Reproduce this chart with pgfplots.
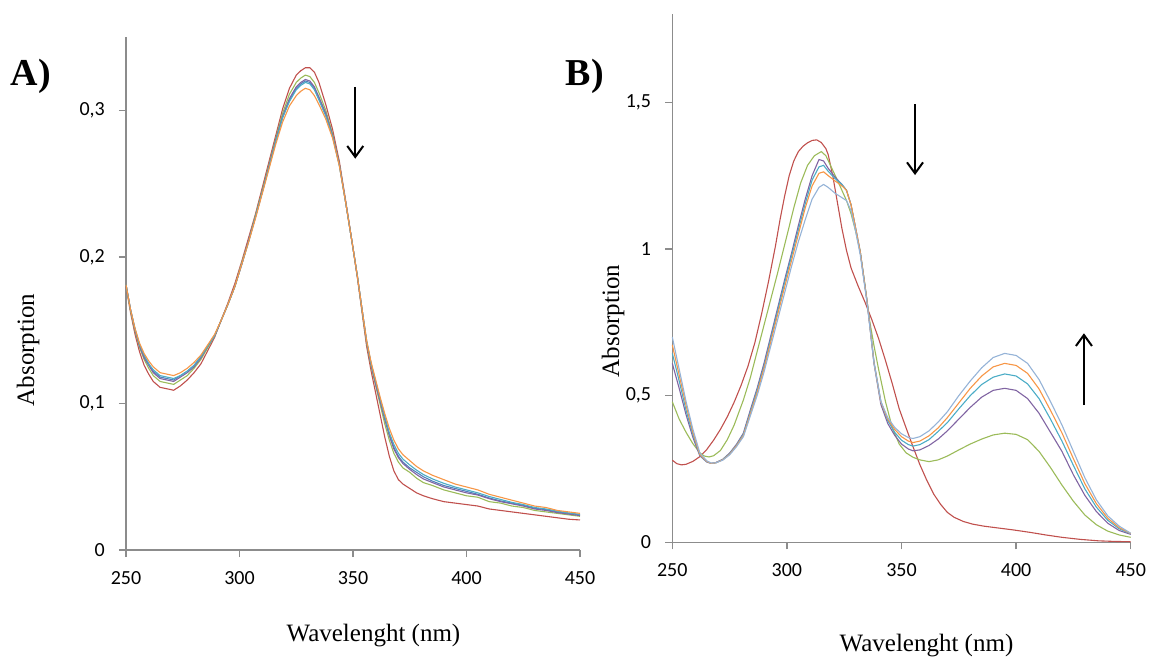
\documentclass[border=0pt]{standalone}
\usepackage{pgfplots}
\pgfplotsset{compat=1.18}
\usetikzlibrary{arrows.meta}
\usepackage{fontspec}
\setmainfont{Liberation Serif}
\newfontfamily\carlito{Carlito}
\definecolor{axisgray}{HTML}{8C8C8C}
\definecolor{xblue}{HTML}{4F81BD}
\definecolor{xred}{HTML}{C0504D}
\definecolor{xgreen}{HTML}{9BBB59}
\definecolor{xpurple}{HTML}{8064A2}
\definecolor{xaqua}{HTML}{4BACC6}
\definecolor{xorange}{HTML}{F79646}
\definecolor{xlblue}{HTML}{95B3D7}
\pgfplotsset{
  specstyle/.style={
    scale only axis,
    axis lines*=left,
    axis line style={draw=axisgray, line width=1.3pt},
    tick style={draw=axisgray, line width=1.3pt},
    tick align=outside,
    major tick length=7pt,
    xmin=250, xmax=450, ymin=0,
    xtick={250,300,350,400,450},
    tick label style={font=\carlito\fontsize{20}{24}\selectfont, text=black, inner sep=0pt},
    xticklabel style={yshift=-14pt},
    yticklabel style={xshift=-14pt},
    /pgf/number format/assume math mode=true,
    yticklabel style={/pgf/number format/.cd, use comma, fixed},
    clip=false,
    every axis plot/.append style={line width=1.1pt, mark=none},
  }
}
\begin{document}
\begin{tikzpicture}
\useasboundingbox (0,0) rectangle (1151pt,-659pt);
% ---------------- Panel A ----------------
\begin{axis}[specstyle, at={(126pt,-550pt)}, anchor=south west,
  width=454pt, height=513pt, ymax=0.35, ytick={0,0.1,0.2,0.3}]
\addplot[xblue] coordinates {(250,0.181)(252,0.164)(254,0.150)(256,0.140)(258,0.132)(260,0.127)(262,0.122)(265,0.118)(268,0.117)(271,0.116)(274,0.119)(277,0.122)(280,0.126)(283,0.132)(286,0.139)(289,0.146)(292,0.157)(295,0.168)(298,0.180)(301,0.195)(304,0.211)(307,0.227)(310,0.244)(313,0.262)(316,0.279)(319,0.295)(322,0.307)(325,0.315)(327,0.318)(329,0.320)(331,0.319)(333,0.315)(335,0.308)(338,0.297)(341,0.283)(344,0.263)(347,0.235)(350,0.206)(352,0.186)(354,0.164)(356,0.142)(358,0.127)(360,0.114)(362,0.102)(364,0.090)(366,0.079)(368,0.070)(370,0.064)(372,0.060)(375,0.056)(378,0.053)(381,0.050)(385,0.047)(390,0.044)(395,0.042)(400,0.040)(405,0.038)(410,0.0355)(415,0.0335)(420,0.032)(425,0.0305)(430,0.0285)(435,0.0275)(440,0.026)(445,0.025)(450,0.024)};
\addplot[xred] coordinates {(250,0.180)(252,0.162)(254,0.147)(256,0.135)(258,0.126)(260,0.120)(262,0.115)(265,0.111)(268,0.110)(271,0.109)(274,0.112)(277,0.116)(280,0.121)(283,0.127)(286,0.136)(289,0.145)(292,0.157)(295,0.169)(298,0.182)(301,0.197)(304,0.213)(307,0.229)(310,0.247)(313,0.265)(316,0.283)(319,0.301)(322,0.315)(325,0.324)(327,0.327)(329,0.329)(331,0.329)(333,0.326)(335,0.319)(338,0.304)(341,0.287)(344,0.265)(347,0.236)(350,0.206)(352,0.185)(354,0.162)(356,0.139)(358,0.122)(360,0.107)(362,0.092)(364,0.077)(366,0.064)(368,0.054)(370,0.048)(372,0.045)(375,0.042)(378,0.039)(381,0.037)(385,0.035)(390,0.033)(395,0.032)(400,0.031)(405,0.030)(410,0.028)(415,0.027)(420,0.026)(425,0.025)(430,0.024)(435,0.023)(440,0.022)(445,0.021)(450,0.0205)};
\addplot[xgreen] coordinates {(250,0.181)(252,0.163)(254,0.149)(256,0.138)(258,0.130)(260,0.124)(262,0.119)(265,0.115)(268,0.114)(271,0.113)(274,0.116)(277,0.119)(280,0.124)(283,0.130)(286,0.138)(289,0.146)(292,0.157)(295,0.168)(298,0.180)(301,0.196)(304,0.211)(307,0.228)(310,0.245)(313,0.263)(316,0.281)(319,0.298)(322,0.311)(325,0.319)(327,0.322)(329,0.324)(331,0.323)(333,0.319)(335,0.312)(338,0.300)(341,0.284)(344,0.263)(347,0.235)(350,0.206)(352,0.186)(354,0.163)(356,0.141)(358,0.125)(360,0.112)(362,0.099)(364,0.086)(366,0.075)(368,0.066)(370,0.060)(372,0.056)(375,0.053)(378,0.049)(381,0.046)(385,0.044)(390,0.041)(395,0.039)(400,0.037)(405,0.036)(410,0.033)(415,0.032)(420,0.030)(425,0.029)(430,0.027)(435,0.026)(440,0.025)(445,0.024)(450,0.023)};
\addplot[xpurple] coordinates {(250,0.181)(252,0.164)(254,0.150)(256,0.139)(258,0.131)(260,0.126)(262,0.121)(265,0.117)(268,0.116)(271,0.115)(274,0.118)(277,0.121)(280,0.125)(283,0.131)(286,0.139)(289,0.146)(292,0.157)(295,0.168)(298,0.180)(301,0.195)(304,0.211)(307,0.227)(310,0.244)(313,0.262)(316,0.280)(319,0.296)(322,0.308)(325,0.316)(327,0.319)(329,0.321)(331,0.320)(333,0.316)(335,0.309)(338,0.298)(341,0.283)(344,0.263)(347,0.235)(350,0.206)(352,0.186)(354,0.164)(356,0.142)(358,0.126)(360,0.113)(362,0.101)(364,0.089)(366,0.078)(368,0.069)(370,0.063)(372,0.059)(375,0.055)(378,0.0515)(381,0.0485)(385,0.046)(390,0.043)(395,0.041)(400,0.039)(405,0.0375)(410,0.035)(415,0.033)(420,0.0315)(425,0.030)(430,0.028)(435,0.027)(440,0.0255)(445,0.0245)(450,0.0235)};
\addplot[xaqua] coordinates {(250,0.181)(252,0.164)(254,0.151)(256,0.140)(258,0.133)(260,0.127)(262,0.123)(265,0.119)(268,0.118)(271,0.117)(274,0.119)(277,0.122)(280,0.126)(283,0.132)(286,0.139)(289,0.146)(292,0.157)(295,0.168)(298,0.180)(301,0.195)(304,0.210)(307,0.227)(310,0.244)(313,0.261)(316,0.279)(319,0.295)(322,0.306)(325,0.314)(327,0.317)(329,0.319)(331,0.318)(333,0.314)(335,0.307)(338,0.296)(341,0.282)(344,0.262)(347,0.235)(350,0.206)(352,0.186)(354,0.164)(356,0.143)(358,0.127)(360,0.115)(362,0.103)(364,0.091)(366,0.080)(368,0.072)(370,0.066)(372,0.062)(375,0.058)(378,0.0545)(381,0.0515)(385,0.0485)(390,0.0455)(395,0.043)(400,0.041)(405,0.039)(410,0.0365)(415,0.0345)(420,0.0325)(425,0.031)(430,0.029)(435,0.028)(440,0.0265)(445,0.0253)(450,0.0243)};
\addplot[xorange] coordinates {(250,0.181)(252,0.164)(254,0.151)(256,0.141)(258,0.134)(260,0.129)(262,0.125)(265,0.121)(268,0.120)(271,0.119)(274,0.121)(277,0.124)(280,0.128)(283,0.133)(286,0.140)(289,0.147)(292,0.157)(295,0.168)(298,0.180)(301,0.195)(304,0.210)(307,0.226)(310,0.243)(313,0.260)(316,0.277)(319,0.292)(322,0.303)(325,0.310)(327,0.313)(329,0.315)(331,0.314)(333,0.310)(335,0.304)(338,0.294)(341,0.281)(344,0.262)(347,0.235)(350,0.206)(352,0.186)(354,0.164)(356,0.143)(358,0.128)(360,0.116)(362,0.104)(364,0.093)(366,0.083)(368,0.075)(370,0.069)(372,0.065)(375,0.061)(378,0.057)(381,0.054)(385,0.051)(390,0.048)(395,0.045)(400,0.043)(405,0.041)(410,0.038)(415,0.036)(420,0.034)(425,0.032)(430,0.030)(435,0.029)(440,0.027)(445,0.026)(450,0.025)};
\draw[line width=2pt, -{Straight Barb[length=11pt,width=16pt,line width=2pt]}] (axis cs:351,0.316) -- (axis cs:351,0.267);
\end{axis}
% ---------------- Panel B ----------------
\begin{axis}[specstyle, at={(672.3pt,-542.3pt)}, anchor=south west,
  width=458.4pt, height=528pt, ymax=1.8, ytick={0,0.5,1,1.5}]
\addplot[xred] coordinates {(250,0.280)(252,0.268)(254,0.264)(256,0.266)(259,0.276)(262,0.292)(265,0.316)(268,0.348)(271,0.385)(274,0.428)(277,0.478)(280,0.535)(283,0.600)(286,0.680)(289,0.780)(292,0.890)(295,1.010)(297,1.100)(299,1.180)(301,1.250)(303,1.300)(305,1.332)(307,1.350)(309,1.362)(311,1.370)(313,1.372)(315,1.363)(317,1.342)(318,1.322)(320,1.250)(322,1.160)(324,1.070)(326,0.995)(328,0.935)(331,0.875)(334,0.820)(337,0.760)(340,0.695)(343,0.620)(346,0.540)(349,0.455)(352,0.390)(355,0.326)(358,0.265)(361,0.212)(364,0.165)(367,0.130)(370,0.102)(373,0.085)(377,0.071)(381,0.062)(386,0.055)(392,0.049)(399,0.042)(406,0.034)(413,0.025)(420,0.017)(428,0.010)(436,0.005)(443,0.003)(450,0.002)};
\addplot[xgreen] coordinates {(250,0.479)(253,0.420)(256,0.375)(259,0.336)(262,0.305)(264,0.294)(266,0.291)(268,0.295)(271,0.313)(274,0.350)(277,0.400)(281,0.485)(284,0.560)(288,0.680)(292,0.800)(296,0.920)(300,1.045)(303,1.140)(306,1.225)(309,1.285)(312,1.318)(315,1.332)(317,1.318)(319,1.285)(322,1.235)(324,1.200)(326,1.165)(328,1.120)(330,1.060)(332,0.990)(334,0.880)(336,0.760)(338,0.670)(340,0.590)(343,0.480)(346,0.390)(349,0.335)(352,0.305)(355,0.290)(358,0.281)(362,0.275)(366,0.281)(370,0.294)(375,0.315)(380,0.335)(385,0.352)(390,0.366)(395,0.372)(400,0.368)(405,0.350)(410,0.310)(415,0.255)(420,0.195)(425,0.140)(430,0.093)(435,0.060)(440,0.038)(445,0.025)(450,0.017)};
\addplot[xpurple] coordinates {(250,0.610)(253,0.525)(256,0.435)(259,0.357)(262,0.295)(265,0.274)(267,0.269)(269,0.272)(272,0.283)(275,0.304)(278,0.334)(281,0.372)(284,0.450)(287,0.525)(290,0.610)(293,0.705)(296,0.800)(299,0.895)(302,0.985)(305,1.080)(308,1.170)(311,1.250)(314,1.305)(316,1.300)(318,1.275)(321,1.245)(324,1.220)(326,1.200)(328,1.150)(330,1.070)(332,0.990)(335,0.820)(338,0.610)(341,0.470)(344,0.405)(347,0.365)(350,0.335)(353,0.318)(355,0.312)(358,0.315)(362,0.330)(366,0.352)(370,0.380)(375,0.420)(380,0.460)(385,0.495)(390,0.518)(395,0.525)(400,0.518)(405,0.490)(410,0.440)(415,0.375)(420,0.310)(425,0.230)(430,0.160)(435,0.105)(440,0.065)(445,0.040)(450,0.027)};
\addplot[xaqua] coordinates {(250,0.644)(253,0.550)(256,0.450)(259,0.367)(262,0.298)(265,0.275)(267,0.269)(269,0.271)(272,0.282)(275,0.302)(278,0.331)(281,0.368)(284,0.443)(287,0.518)(290,0.600)(293,0.695)(296,0.790)(299,0.885)(302,0.975)(305,1.065)(308,1.155)(311,1.235)(314,1.280)(316,1.285)(318,1.265)(321,1.240)(324,1.220)(326,1.200)(328,1.150)(330,1.070)(332,0.990)(335,0.820)(338,0.615)(341,0.480)(344,0.415)(347,0.375)(350,0.348)(353,0.333)(355,0.328)(358,0.333)(362,0.350)(366,0.378)(370,0.408)(375,0.455)(380,0.500)(385,0.538)(390,0.563)(395,0.574)(400,0.567)(405,0.540)(410,0.490)(415,0.420)(420,0.345)(425,0.262)(430,0.182)(435,0.120)(440,0.075)(445,0.046)(450,0.029)};
\addplot[xorange] coordinates {(250,0.673)(253,0.570)(256,0.467)(259,0.375)(262,0.300)(265,0.276)(267,0.269)(269,0.271)(272,0.281)(275,0.300)(278,0.329)(281,0.364)(284,0.437)(287,0.510)(290,0.592)(293,0.685)(296,0.778)(299,0.870)(302,0.960)(305,1.050)(308,1.140)(311,1.215)(314,1.258)(316,1.263)(318,1.250)(321,1.232)(324,1.215)(326,1.200)(328,1.150)(330,1.070)(332,0.990)(335,0.820)(338,0.612)(341,0.478)(344,0.420)(347,0.385)(350,0.360)(353,0.345)(355,0.340)(358,0.345)(362,0.363)(366,0.390)(370,0.425)(375,0.475)(380,0.525)(385,0.567)(390,0.598)(395,0.610)(400,0.603)(405,0.576)(410,0.523)(415,0.450)(420,0.373)(425,0.285)(430,0.200)(435,0.132)(440,0.082)(445,0.050)(450,0.030)};
\addplot[xlblue] coordinates {(250,0.700)(253,0.590)(256,0.480)(259,0.385)(262,0.305)(265,0.278)(267,0.270)(269,0.271)(272,0.280)(275,0.298)(278,0.326)(281,0.360)(284,0.430)(287,0.500)(290,0.580)(293,0.670)(296,0.760)(299,0.850)(302,0.940)(305,1.025)(308,1.100)(311,1.170)(314,1.210)(316,1.220)(318,1.210)(321,1.190)(324,1.175)(326,1.165)(328,1.130)(330,1.060)(332,0.980)(335,0.815)(338,0.610)(341,0.480)(344,0.425)(347,0.392)(350,0.370)(353,0.357)(355,0.354)(358,0.360)(362,0.380)(366,0.410)(370,0.445)(375,0.500)(380,0.550)(385,0.595)(390,0.630)(395,0.644)(400,0.637)(405,0.610)(410,0.555)(415,0.480)(420,0.400)(425,0.310)(430,0.220)(435,0.145)(440,0.090)(445,0.055)(450,0.031)};
\draw[line width=2pt, -{Straight Barb[length=11pt,width=16pt,line width=2pt]}] (axis cs:355.9,1.494) -- (axis cs:355.9,1.252);
\draw[line width=2pt, -{Straight Barb[length=11pt,width=16pt,line width=2pt]}] (axis cs:429.6,0.468) -- (axis cs:429.6,0.7126);
\end{axis}
% ---------------- Labels ----------------
\node[anchor=base west, inner sep=0pt, font=\bfseries\fontsize{38}{44}\selectfont] at (10.7pt,-85pt) {A)};
\node[anchor=base west, inner sep=0pt, font=\bfseries\fontsize{38}{44}\selectfont] at (565.5pt,-85pt) {B)};
\node[rotate=90, inner sep=0pt, font=\fontsize{25}{30}\selectfont] at (28pt,-350pt) {Absorption};
\node[rotate=90, inner sep=0pt, font=\fontsize{25}{30}\selectfont] at (613pt,-321pt) {Absorption};
\node[anchor=base, inner sep=0pt, font=\fontsize{25}{30}\selectfont] at (373.5pt,-641.7pt) {Wavelenght (nm)};
\node[anchor=base, inner sep=0pt, font=\fontsize{25}{30}\selectfont] at (926.5pt,-651.7pt) {Wavelenght (nm)};
\end{tikzpicture}
\end{document}
